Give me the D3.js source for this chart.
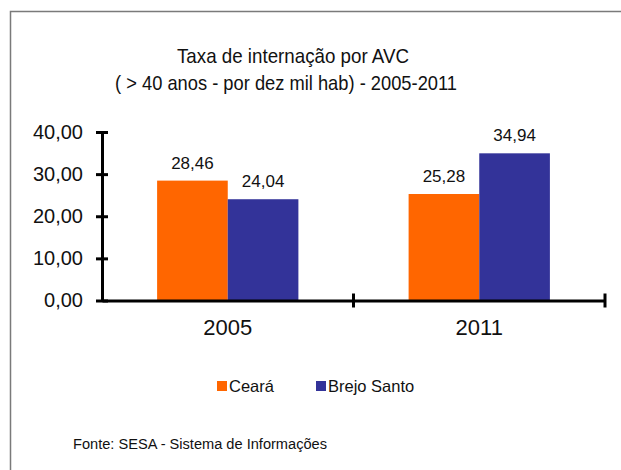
<!DOCTYPE html>
<html>
<head>
    <meta charset="utf-8">
    <style>
        body {
            margin: 0;
            background: #fff;
        }

        svg {
            font-family: 'Liberation Sans', Arial, sans-serif;
            display: block;
        }

        .title {
            font-size: 21px;
            fill: #111;
        }

        .y .tick text {
            font-size: 20px;
            fill: #111;
        }

        .x .tick text {
            font-size: 22px;
            fill: #111;
        }

        .domain,
        .tick line {
            stroke: #000;
            stroke-width: 3;
        }

        .bar-label {
            font-size: 17px;
            fill: #111;
        }

        .legend text {
            font-size: 16.5px;
            fill: #111;
        }

        .source {
            font-size: 14px;
            fill: #111;
        }
    </style>
</head>

<body>
    <svg width="621" height="470"></svg>

    <script src="https://d3js.org/d3.v7.min.js"></script>
    <script>
        // data
        const years = ["2005", "2011"];
        const series = ["Ceará", "Brejo Santo"];
        const ceara = [28.46, 25.28];
        const brejoSanto = [24.04, 34.94];
        const yTicks = [0, 10, 20, 30, 40];
        const colors = ["#FF6600", "#333399"];

        const svg = d3.select("svg");

        // outer frame (only left and top edges visible in the picture)
        svg.append("path")
            .attr("d", "M10.5,470 L10.5,11.5 L621,11.5")
            .style("fill", "none")
            .style("stroke", "#7a7a7a")
            .style("stroke-width", 1.5);

        // title, two lines squeezed like the original's narrow font
        svg.append("text")
            .attr("class", "title")
            .attr("x", 177).attr("y", 63)
            .attr("textLength", 232)
            .attr("lengthAdjust", "spacingAndGlyphs")
            .text("Taxa de internação por AVC");

        svg.append("text")
            .attr("class", "title")
            .attr("x", 115).attr("y", 90)
            .attr("textLength", 342)
            .attr("lengthAdjust", "spacingAndGlyphs")
            .text("( > 40 anos - por dez mil hab) - 2005-2011");

        const plotLeft = 102, plotRight = 605, plotTop = 132, plotBottom = 300.5;

        const x = d3.scaleBand()
            .domain(years)
            .range([plotLeft, plotRight]);

        const xInner = d3.scaleBand()
            .domain(series)
            .range([0, x.bandwidth()])
            .paddingOuter(0.78)
            .paddingInner(0);

        const y = d3.scaleLinear()
            .domain([0, 40])
            .range([plotBottom, plotTop]);

        const fmt = v => d3.format(".2f")(v).replace(".", ",");

        const rows = years.map((yr, i) => ({ year: yr, values: [ceara[i], brejoSanto[i]] }));

        // bars
        const groups = svg.append("g")
            .selectAll("g")
            .data(rows)
            .join("g")
            .attr("transform", d => `translate(${x(d.year)},0)`);

        groups.selectAll("rect")
            .data(d => d.values.map((v, j) => ({ key: series[j], value: v, j: j })))
            .join("rect")
            .attr("x", d => xInner(d.key))
            .attr("y", d => y(d.value))
            .attr("width", xInner.bandwidth())
            .attr("height", d => y(0) - y(d.value))
            .style("fill", d => colors[d.j]);

        groups.selectAll("text")
            .data(d => d.values.map((v, j) => ({ key: series[j], value: v })))
            .join("text")
            .attr("class", "bar-label")
            .attr("text-anchor", "middle")
            .attr("x", d => xInner(d.key) + xInner.bandwidth() / 2)
            .attr("y", d => y(d.value) - 12)
            .text(d => fmt(d.value));

        // y axis
        svg.append("g")
            .attr("class", "y axis")
            .attr("transform", `translate(${plotLeft},0)`)
            .call(d3.axisLeft(y)
                .tickValues(yTicks)
                .tickSizeInner(-6)
                .tickSizeOuter(0)
                .tickFormat(fmt)
                .tickPadding(19))
            .call(g => g.selectAll(".tick line").clone().attr("x2", -6));

        // x axis with ticks at the category boundaries
        const xAxis = svg.append("g")
            .attr("class", "x axis")
            .attr("transform", `translate(0,${plotBottom})`)
            .call(d3.axisBottom(x).tickSize(0).tickPadding(19));

        xAxis.selectAll(".bound")
            .data([plotLeft + x.bandwidth(), plotRight])
            .join("line")
            .attr("class", "bound")
            .attr("x1", d => d).attr("x2", d => d)
            .attr("y1", -7).attr("y2", 7)
            .style("stroke", "#000")
            .style("stroke-width", 3);

        // legend
        const legendX = [217, 316];
        const legend = svg.append("g")
            .attr("class", "legend")
            .selectAll("g")
            .data(series)
            .join("g")
            .attr("transform", (d, i) => `translate(${legendX[i]},381)`);

        legend.append("rect")
            .attr("width", 10)
            .attr("height", 10)
            .style("fill", (d, i) => colors[i]);

        legend.append("text")
            .attr("x", 12)
            .attr("y", 11)
            .text(d => d);

        // source
        svg.append("text")
            .attr("class", "source")
            .attr("x", 73)
            .attr("y", 449)
            .attr("textLength", 254)
            .attr("lengthAdjust", "spacingAndGlyphs")
            .text("Fonte: SESA - Sistema de Informações");
    </script>
</body>
</html>
